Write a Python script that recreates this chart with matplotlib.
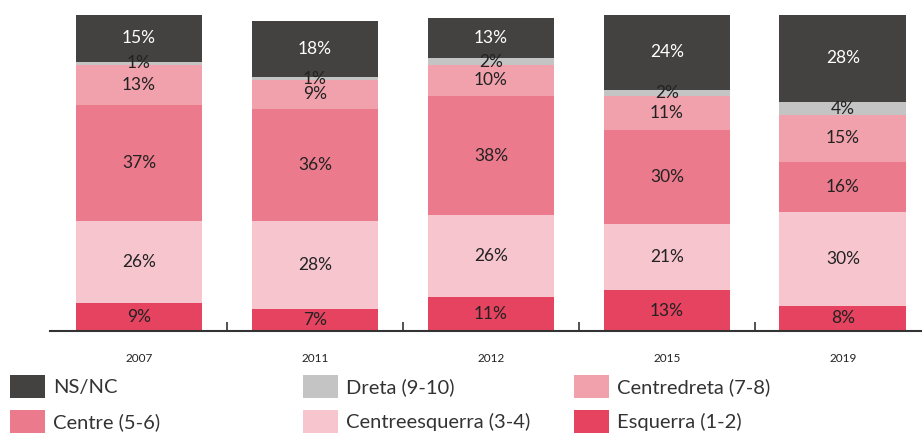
import matplotlib.pyplot as plt
from matplotlib.patches import Rectangle
import numpy as np

years = ['2007', '2011', '2012', '2015', '2019']
categories = ['Esquerra (1-2)', 'Centreesquerra (3-4)', 'Centre (5-6)',
              'Centredreta (7-8)', 'Dreta (9-10)', 'NS/NC']
esquerra = [9, 7, 11, 13, 8]
centreesquerra = [26, 28, 26, 21, 30]
centre = [37, 36, 38, 30, 16]
centredreta = [13, 9, 10, 11, 15]
dreta = [1, 1, 2, 2, 4]
nsnc = [15, 18, 13, 24, 28]
series = [esquerra, centreesquerra, centre, centredreta, dreta, nsnc]
colors = ['#e5435f', '#f7c5ce', '#eb7a8c', '#f1a1ac', '#c4c4c4', '#434240']
text_colors = ['#222222'] * 5 + ['white']

plt.rcParams['font.family'] = ['Lato', 'DejaVu Sans']

fig = plt.figure(figsize=(9.22, 4.38), dpi=100)
ax = fig.add_axes([50 / 922, 107 / 438, 872 / 922, 329 / 438])

x = np.arange(len(years))
bottom = np.zeros(len(years))
for vals, col, tcol in zip(series, colors, text_colors):
    vals = np.array(vals)
    ax.bar(x, vals, 0.72, bottom=bottom, color=col, linewidth=0)
    for xi, b, v in zip(x, bottom, vals):
        ax.text(xi, b + v / 2, f'{v}%', ha='center', va='center',
                fontsize=12.5, color=tcol)
    bottom += vals

ax.set_xlim(-0.506, 4.45)
ax.set_ylim(0, 105)
for s in ['top', 'right', 'left']:
    ax.spines[s].set_visible(False)
ax.spines['bottom'].set_linewidth(1.5)
ax.spines['bottom'].set_color('#333333')
ax.set_yticks([])
ax.set_xticks(x)
ax.set_xticklabels(years, fontsize=8.5, color='#222222')
ax.tick_params(axis='x', which='major', length=0, pad=16)
ax.set_xticks(x[:-1] + 0.5, minor=True)
ax.tick_params(axis='x', which='minor', direction='in', length=6.5,
               width=1.2, color='#333333')

# legend laid out by hand in three columns
leg_order = [5, 4, 3, 2, 1, 0]
leg_x = [10, 303, 574]
leg_y = [375, 410]
for k, idx in enumerate(leg_order):
    px = leg_x[k % 3]
    py = leg_y[k // 3]
    fig.add_artist(Rectangle((px / 922, 1 - (py + 23) / 438), 35 / 922, 23 / 438,
                             transform=fig.transFigure, color=colors[idx], lw=0))
    fig.text((px + 43) / 922, 1 - (py + 12) / 438, categories[idx],
             fontsize=14.5, va='center', ha='left', color='#333333')

fig.savefig('out.png', dpi=100)
